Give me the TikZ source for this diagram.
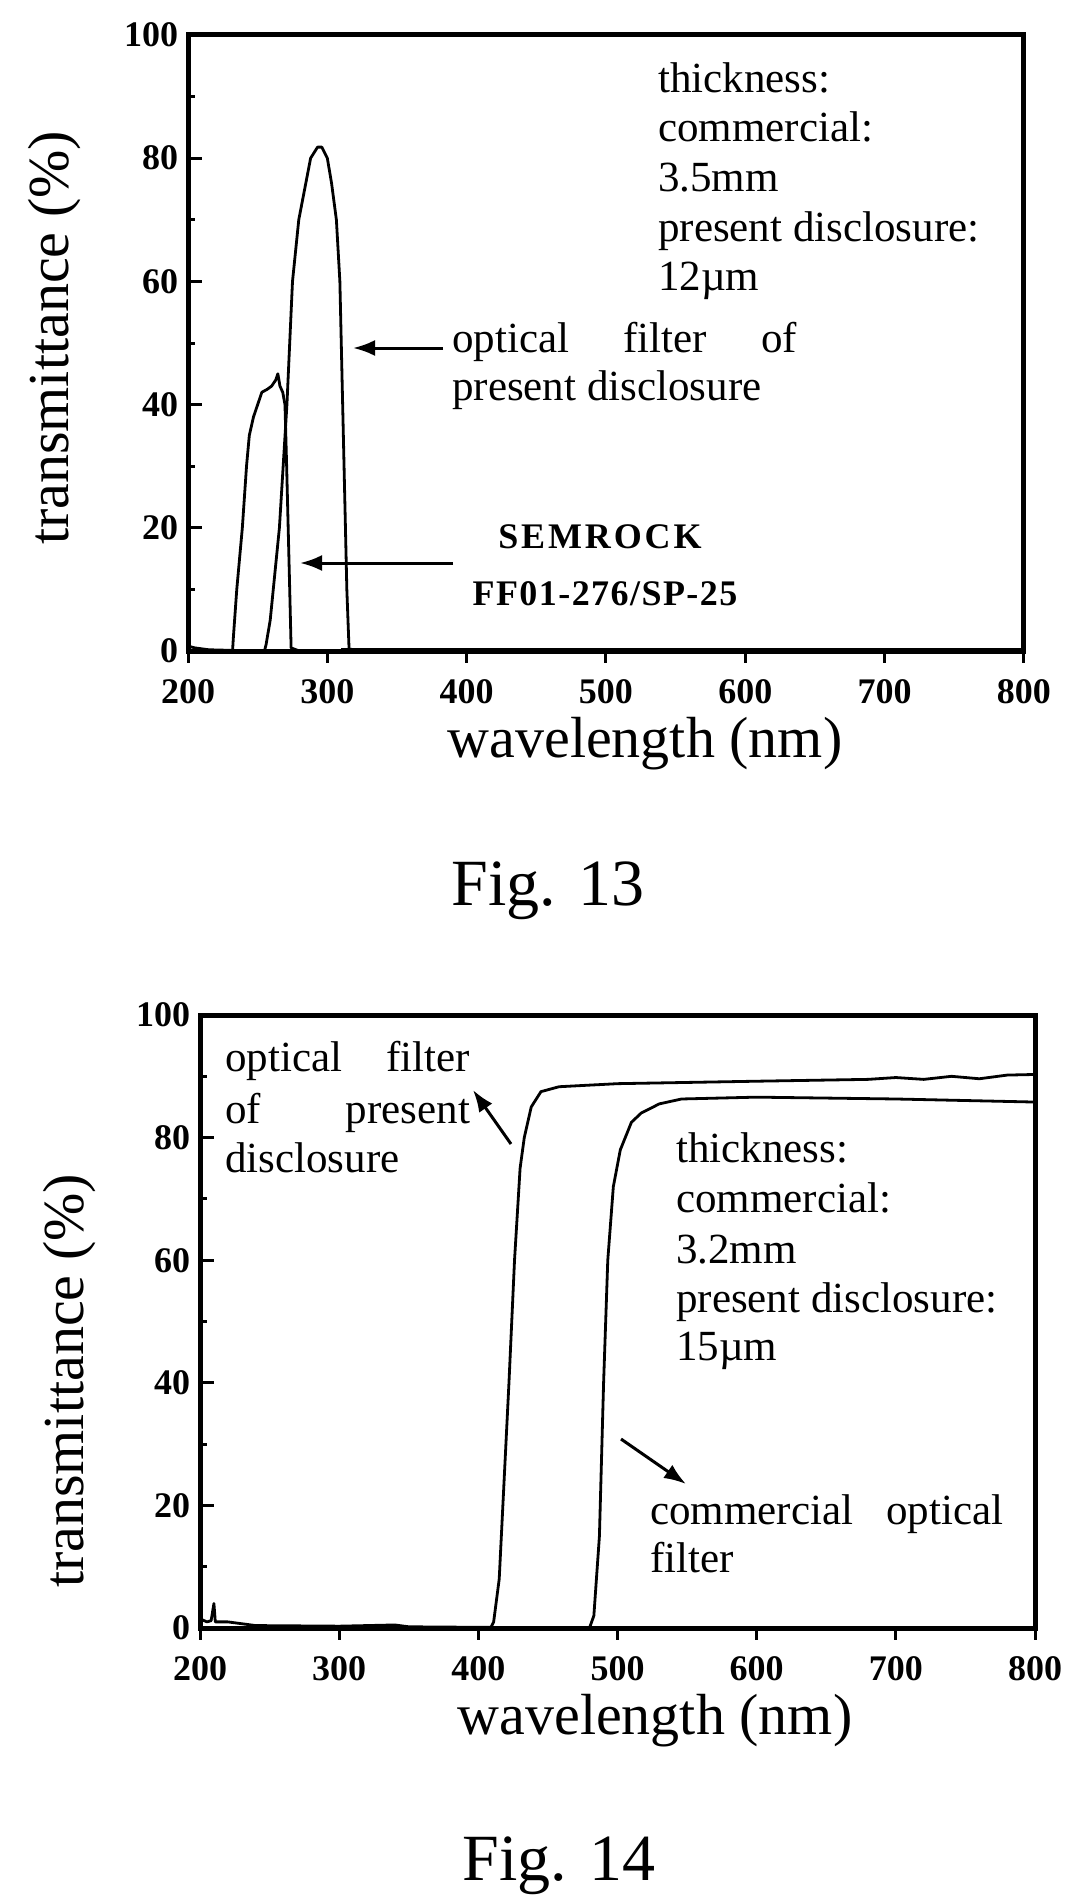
\documentclass[tikz,border=0pt]{standalone}
\usepackage{fontspec}
\setmainfont{Liberation Serif}
\usetikzlibrary{arrows.meta}
\tikzset{
 curve/.style={line width=2.8pt,line join=round},
 frame/.style={line width=5pt},
 ann/.style={font=\fontsize{43}{49}\selectfont,align=left,inner sep=0pt},
 axlab/.style={font=\fontsize{58}{60}\selectfont,inner sep=0pt},
 ticklab/.style={font=\bfseries\fontsize{36}{38}\selectfont,inner sep=0pt},
 figlab/.style={font=\fontsize{66}{70}\selectfont,inner sep=0pt},
 ptr/.style={line width=3pt,-{Latex[length=22pt,width=16pt]}}
}
\begin{document}
\begin{tikzpicture}[x=1pt,y=1pt]
\useasboundingbox (0,-1902) rectangle (1074,0);
% ================= Fig 13 =================
\begin{scope}[shift={(188,-651)},x=1.3933pt,y=6.16pt]
 \draw[frame] (0,0) rectangle (600,100);
 \foreach \v in {0,20,...,100}{\draw[line width=3pt] (0,\v) -- (10,\v);
   \node[ticklab,anchor=east] at (-7,\v) {\v};}
 \foreach \v in {10,30,...,90}{\draw[line width=3pt] (0,\v) -- (5,\v);}
 \foreach \u/\l in {0/200,100/300,200/400,300/500,400/600,500/700,600/800}{
   \draw[line width=3pt] (\u,0) -- (\u,-2);
   \node[ticklab,anchor=base] at (\u,-8.6) {\l};}
 % Semrock
 \draw[curve] (0,0.8) -- (5,0.5) -- (15,0.2) -- (32,0.1)
   -- (32.5,2) -- (35,10) -- (39,20) -- (42,30) -- (44,35) -- (47,38) -- (50,40)
   -- (53,42) -- (57,42.5) -- (60,43) -- (63,44) -- (64.5,45) -- (66,43)
   -- (68,42) -- (69.6,40) -- (70.8,30) -- (73,10) -- (74,0.5) -- (80,0);
 % present disclosure
 \draw[curve] (40,0) -- (55,0.1) -- (56,1) -- (59,5) -- (65.6,20) -- (71,40) -- (73,50)
   -- (75,60) -- (79.5,70) -- (88,80) -- (93,81.8) -- (96,81.8) -- (100,80)
   -- (103,76) -- (106.5,70) -- (109,60) -- (110,50) -- (112,30) -- (114,10)
   -- (115.6,0.3) -- (130,0);
 \draw[curve] (110,0.2) -- (600,0.2);
\end{scope}
\node[axlab,rotate=90] (yl13) at (55,-338) {transmittance (\%)};
\node[axlab,anchor=base] (xl13) at (645,-757) {wavelength (nm)};
\node[ann,anchor=base west] (th13) at (658,-93) {thickness:};
\node[ann,anchor=base west] at (658,-142) {commercial:};
\node[ann,anchor=base west] at (658,-192) {3.5mm};
\node[ann,anchor=base west] at (658,-242) {present disclosure:};
\node[ann,anchor=base west] at (658,-290) {12\textmu m};
\node[ann,anchor=base west] (of13) at (452,-352) {\makebox[345pt][s]{optical filter of}};
\node[ann,anchor=base west] (pd13) at (452,-400) {present disclosure};
\coordinate (a13s) at (443,-348);
\coordinate (a13t) at (353,-348);
\draw[ptr] (a13s) -- (a13t);
\node[inner sep=0pt,anchor=base,font=\bfseries\fontsize{36}{38}\selectfont] (sem) at (600,-548) {\addfontfeatures{LetterSpace=8}SEMROCK};
\node[inner sep=0pt,anchor=base,font=\bfseries\fontsize{36}{38}\selectfont] (ff) at (605,-605) {\addfontfeatures{LetterSpace=4}FF01-276/SP-25};
\coordinate (a13bs) at (453,-563);
\coordinate (a13bt) at (300,-563);
\draw[ptr] (a13bs) -- (a13bt);
\node[figlab,anchor=base] (f13) at (548,-905) {Fig. 13};
% ================= Fig 14 =================
\begin{scope}[shift={(200,-1628)},x=1.3917pt,y=6.13pt]
 \draw[frame] (0,0) rectangle (600,100);
 \foreach \v in {0,20,...,100}{\draw[line width=3pt] (0,\v) -- (10,\v);
   \node[ticklab,anchor=east] at (-7,\v) {\v};}
 \foreach \v in {10,30,...,90}{\draw[line width=3pt] (0,\v) -- (5,\v);}
 \foreach \u/\l in {0/200,100/300,200/400,300/500,400/600,500/700,600/800}{
   \draw[line width=3pt] (\u,0) -- (\u,-2);
   \node[ticklab,anchor=base] at (\u,-8.5) {\l};}
 % present disclosure
 \draw[curve] (0,1.5) -- (5,1) -- (8,1.2) -- (10,4) -- (11,1) -- (20,1) -- (40,0.4)
   -- (100,0.3) -- (140,0.5) -- (150,0.2) -- (209,0.1) -- (211,1) -- (215,8) -- (222,40)
   -- (226,60) -- (230,75) -- (233,80) -- (238,85) -- (245,87.5) -- (258,88.3)
   -- (300,88.8) -- (400,89.2) -- (480,89.5) -- (500,89.8) -- (520,89.5) -- (540,90) -- (560,89.6) -- (580,90.2) -- (600,90.3);
 % commercial
 \draw[curve] (260,0.1) -- (280,0.1) -- (283,2) -- (287,15) -- (290,40) -- (293,60)
   -- (297,72) -- (302,78) -- (310,82.5) -- (317,84) -- (330,85.5) -- (346,86.3)
   -- (400,86.6) -- (500,86.3) -- (600,85.8);
\end{scope}
\node[axlab,rotate=90] (yl14) at (70,-1381) {transmittance (\%)};
\node[axlab,anchor=base] (xl14) at (655,-1734) {wavelength (nm)};
\node[ann,anchor=base west] at (225,-1071) {\makebox[245pt][s]{optical filter}};
\node[ann,anchor=base west] at (225,-1123) {\makebox[245pt][s]{of present}};
\node[ann,anchor=base west] at (225,-1172) {disclosure};
\coordinate (a14s) at (511,-1144);
\coordinate (a14t) at (473,-1090);
\draw[ptr] (a14s) -- (a14t);
\node[ann,anchor=base west] at (676,-1162) {thickness:};
\node[ann,anchor=base west] at (676,-1212) {commercial:};
\node[ann,anchor=base west] at (676,-1263) {3.2mm};
\node[ann,anchor=base west] at (676,-1312) {present disclosure:};
\node[ann,anchor=base west] at (676,-1360) {15\textmu m};
\coordinate (a14bs) at (621,-1439);
\coordinate (a14bt) at (686,-1484);
\draw[ptr] (a14bs) -- (a14bt);
\node[ann,anchor=base west] at (650,-1524) {\makebox[353pt][s]{commercial optical}};
\node[ann,anchor=base west] at (650,-1572) {filter};
\node[figlab,anchor=base] (f14) at (559,-1880) {Fig. 14};
\end{tikzpicture}
\end{document}
